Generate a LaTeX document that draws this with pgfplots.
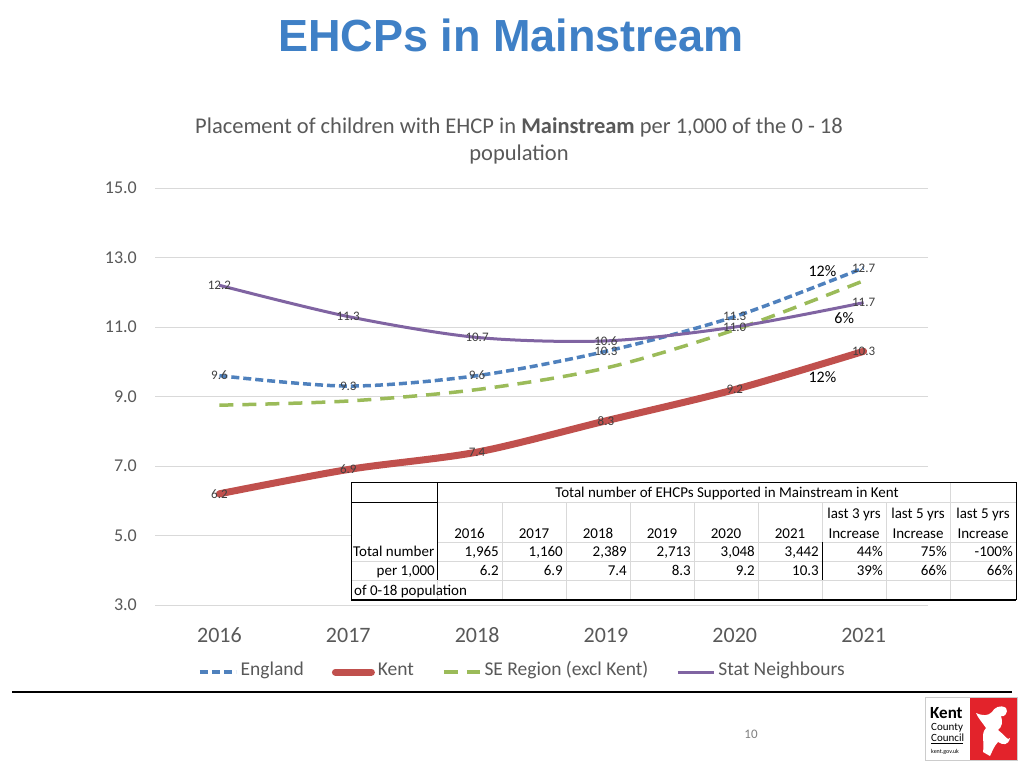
\documentclass[border=0pt]{standalone}
\usepackage{fontspec}
\setmainfont{Carlito}
\newfontfamily\arialfont{Liberation Sans}
\usepackage{pgfplots}
\pgfplotsset{compat=1.18}
\definecolor{engblue}{HTML}{4F81BD}
\definecolor{kentred}{HTML}{C0504D}
\definecolor{segreen}{HTML}{9BBB59}
\definecolor{statpurple}{HTML}{8064A2}
\definecolor{txtgray}{HTML}{595959}
\definecolor{gridgray}{HTML}{D9D9D9}
\definecolor{titleblue}{HTML}{3F80C6}
\definecolor{lblgray}{HTML}{404040}
\definecolor{logored}{HTML}{E3232B}
\begin{document}
\begin{tikzpicture}
\path[fill=white, use as bounding box] (0pt,0pt) rectangle (1024pt,-768pt);
\coordinate (axorig) at (155pt,-605pt);
% slide title
\node[font=\arialfont\bfseries\fontsize{45}{54}\selectfont, text=titleblue, anchor=base, inner sep=0] at (511pt,-52pt) {EHCPs in Mainstream};
% chart title
\node[font=\fontsize{22.5}{27}\selectfont, text=txtgray, anchor=base, inner sep=0] at (519pt,-133pt) {Placement of children with EHCP in \textbf{Mainstream} per 1,000 of the 0 - 18};
\node[font=\fontsize{22.5}{27}\selectfont, text=txtgray, anchor=base, inner sep=0] at (519pt,-160pt) {population};

\begin{axis}[
  at={(axorig)}, anchor=south west,
  scale only axis, width=773pt, height=417pt,
  xmin=2015.5, xmax=2021.5, ymin=3, ymax=15,
  xtick={2016,2017,2018,2019,2020,2021}, ytick={3,5,7,9,11,13,15},
  axis line style={draw=none},
  major tick length=0pt,
  ymajorgrids, grid style={gridgray, line width=1pt},
  clip=false,
  /pgf/number format/assume math mode=true,
  xticklabel style={/pgf/number format/1000 sep={}, font=\fontsize{22}{26}\selectfont, text=txtgray, anchor=base, inner sep=0pt, yshift=-37pt},
  yticklabel style={/pgf/number format/.cd, fixed, fixed zerofill, precision=1, 1000 sep={}, /tikz/.cd, font=\fontsize{18}{22}\selectfont, text=txtgray, anchor=east, inner sep=0pt, xshift=-18pt},
  legend columns=4,
  legend style={draw=none, fill=none, at={(axis description cs:0.0556,-0.161)}, anchor=west, inner xsep=0pt, inner ysep=0pt,
     font=\fontsize{19.5}{23}\selectfont, text=txtgray, nodes={inner xsep=3pt, inner ysep=1pt, text height=0.64em, text depth=0pt},
     /tikz/every even column/.append style={column sep=25pt}},
  legend image code/.code={\path[draw=none, fill=none] (0pt,-4pt) rectangle (36pt,4pt); \draw[#1] (0pt,0pt) -- (36pt,0pt);},
  every node near coord/.append style={font=\fontsize{13}{15}\selectfont, text=lblgray, anchor=center, inner sep=0pt},
]
\addplot[engblue, line width=3.5pt, dash pattern=on 8pt off 4pt, smooth, tension=0.5,
  nodes near coords={\pgfplotspointmeta}, point meta=explicit symbolic] coordinates {
 (2016,9.6) [9.6] (2017,9.3) [9.3] (2018,9.6) [9.6] (2019,10.3) [10.3] (2020,11.3) [11.3] (2021,12.7) [12.7]};
\addlegendentry{England}
\addplot[kentred, line width=7pt, line cap=round, smooth, tension=0.5,
  nodes near coords={\pgfplotspointmeta}, point meta=explicit symbolic] coordinates {
 (2016,6.2) [6.2] (2017,6.9) [6.9] (2018,7.4) [7.4] (2019,8.3) [8.3] (2020,9.2) [9.2] (2021,10.3) [10.3]};
\addlegendentry{Kent}
\addplot[segreen, line width=3.5pt, dash pattern=on 14pt off 9pt, smooth, tension=0.5] coordinates {
 (2016,8.75) (2017,8.87) (2018,9.2) (2019,9.82) (2020,10.92) (2021,12.33)};
\addlegendentry{SE Region (excl Kent)}
\addplot[statpurple, line width=3pt, smooth, tension=0.5,
  nodes near coords={\pgfplotspointmeta}, point meta=explicit symbolic] coordinates {
 (2016,12.2) [12.2] (2017,11.3) [11.3] (2018,10.7) [10.7] (2019,10.6) [10.6] (2020,11.0) [11.0] (2021,11.7) [11.7]};
\addlegendentry{Stat Neighbours}
\node[font=\fontsize{16}{19}\selectfont, text=black] at (axis cs:2020.68,12.61) {12\%};
\node[font=\fontsize{16}{19}\selectfont, text=black] at (axis cs:2020.85,11.26) {6\%};
\node[font=\fontsize{16}{19}\selectfont, text=black] at (axis cs:2020.68,9.56) {12\%};
\end{axis}

\begin{scope}[x=1pt,y=1pt]
% table
\fill[white] (351,-482) rectangle (1016,-600);
\begin{scope}[gridgray, line width=0.8pt]
\foreach \yy in {502,542,561,580} \draw (437,-\yy) -- (1016,-\yy);
\foreach \yy in {561,580} \draw (351,-\yy) -- (437,-\yy);
\foreach \xx in {502,566,630,694,758,822,886} \draw (\xx,-502) -- (\xx,-600);
\draw (950,-482) -- (950,-600);
\draw (437,-580) -- (437,-600);
\end{scope}
\begin{scope}[black, line width=1pt]
\draw (351,-600) -- (351,-482) -- (1016,-482) -- (1016,-600);
\draw (351,-502) -- (437,-502);
\draw (437,-482) -- (437,-580);
\draw (822,-542) -- (822,-580);
\draw[line width=2pt] (351,-600) -- (1016,-600);
\end{scope}
\begin{scope}[every node/.style={font=\fontsize{15}{17}\selectfont, text=black, inner sep=0pt}]
\node[anchor=base] at (727,-497) {Total number of EHCPs Supported in Mainstream in Kent};
\foreach \xx/\yr in {469.5/2016,534/2017,598/2018,662/2019,726/2020,790/2021}
  \node[anchor=base] at (\xx,-538) {\yr};
\node[anchor=base] at (854,-518) {last 3 yrs};
\node[anchor=base] at (918,-518) {last 5 yrs};
\node[anchor=base] at (983,-518) {last 5 yrs};
\node[anchor=base] at (854,-538) {Increase};
\node[anchor=base] at (918,-538) {Increase};
\node[anchor=base] at (983,-538) {Increase};
\node[anchor=base west] at (353,-556) {Total number};
\node[anchor=base east] at (435,-575) {per 1,000};
\node[anchor=base west] at (354,-595) {of 0-18 population};
\node[anchor=base east] at (499,-556) {1,965};
\node[anchor=base east] at (563,-556) {1,160};
\node[anchor=base east] at (627,-556) {2,389};
\node[anchor=base east] at (691,-556) {2,713};
\node[anchor=base east] at (755,-556) {3,048};
\node[anchor=base east] at (819,-556) {3,442};
\node[anchor=base east] at (883,-556) {44\%};
\node[anchor=base east] at (947,-556) {75\%};
\node[anchor=base east] at (1013,-556) {-100\%};
\node[anchor=base east] at (499,-575) {6.2};
\node[anchor=base east] at (563,-575) {6.9};
\node[anchor=base east] at (627,-575) {7.4};
\node[anchor=base east] at (691,-575) {8.3};
\node[anchor=base east] at (755,-575) {9.2};
\node[anchor=base east] at (819,-575) {10.3};
\node[anchor=base east] at (883,-575) {39\%};
\node[anchor=base east] at (947,-575) {66\%};
\node[anchor=base east] at (1013,-575) {66\%};
\end{scope}

% slide rule
\draw[black, line width=1.5pt] (12,-692) -- (1012,-692);
% page number
\node[font=\fontsize{13}{15}\selectfont, text=gray, anchor=base] at (751,-738) {10};
% logo
\draw[gray!40, line width=0.6pt, fill=white] (925,-697) rectangle (1017,-760);
\fill[logored] (970,-698) rectangle (1016.5,-759.5);
\node[font=\bfseries\fontsize{17}{18}\selectfont, anchor=base west, inner sep=0] at (930,-718) {Kent};
\node[font=\fontsize{11}{12}\selectfont, anchor=base west, inner sep=0] at (931,-730) {County};
\node[font=\fontsize{11}{12}\selectfont, anchor=base west, inner sep=0] at (931,-741) {Council};
\draw[black, line width=0.7pt] (931,-743.5) -- (963,-743.5);
\node[font=\fontsize{6}{7}\selectfont, anchor=base west, inner sep=0] at (931,-753) {kent.gov.uk};
\fill[white] (983,-752) .. controls (985,-740) and (980,-735) .. (986,-728)
  .. controls (982,-722) and (978,-718) .. (976,-713)
  .. controls (983,-716) and (988,-716) .. (992,-712)
  .. controls (994,-708) and (1000,-704) .. (1006,-708)
  .. controls (1009,-712) and (1004,-718) .. (1001,-716)
  .. controls (1003,-722) and (1002,-727) .. (998,-730)
  .. controls (1004,-734) and (1008,-742) .. (1010,-738)
  .. controls (1008,-746) and (1003,-745) .. (998,-742)
  .. controls (994,-746) and (992,-752) .. (990,-756) -- cycle;
\end{scope}
\end{tikzpicture}
\end{document}
